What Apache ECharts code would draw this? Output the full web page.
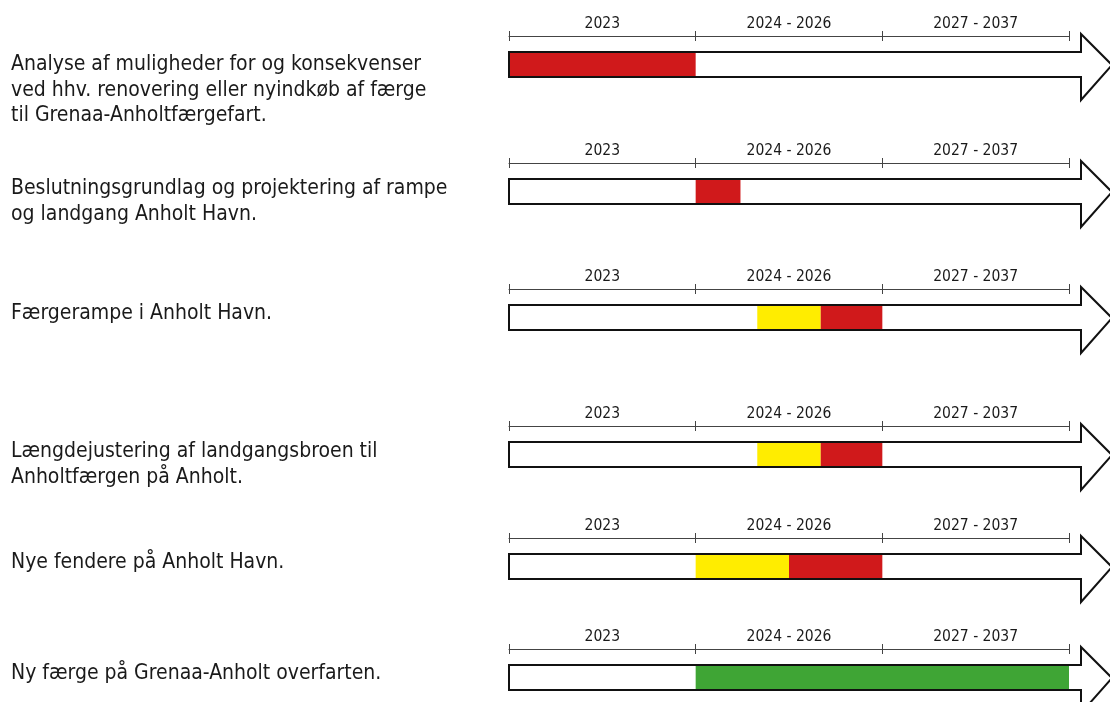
<!DOCTYPE html>
<html>
<head>
<meta charset="utf-8">
<script src="https://cdn.jsdelivr.net/npm/echarts@6/dist/echarts.min.js"></script>
<style>html,body{margin:0;padding:0;background:#fff}#chart{width:1110px;height:702px}</style>
</head>
<body>
<div id="chart"></div>
<script>
var tasks = [
    'Analyse af muligheder for og konsekvenser\nved hhv. renovering eller nyindkøb af færge\ntil Grenaa-Anholtfærgefart.',
    'Beslutningsgrundlag og projektering af rampe\nog landgang Anholt Havn.',
    'Færgerampe i Anholt Havn.',
    'Længdejustering af landgangsbroen til\nAnholtfærgen på Anholt.',
    'Nye fendere på Anholt Havn.',
    'Ny færge på Grenaa-Anholt overfarten.'
];
var periods = ['2023', '2024 - 2026', '2027 - 2037'];

// phases on a period scale: 0-1 = 2023, 1-2 = 2024-2026, 2-3 = 2027-2037
var yellowFrom = [null, null, 1.33, 1.33, 1.0, null];
var yellowTo   = [null, null, 1.67, 1.67, 1.5, null];
var redFrom    = [0, 1.0, 1.67, 1.67, 1.5, null];
var redTo      = [1, 1.24, 2, 2, 2, null];
var greenFrom  = [null, null, null, null, null, 1.0];
var greenTo    = [null, null, null, null, null, 3];

var colors = ['#ffed00', '#d0191b', '#3fa535'];
var rowTop = [36, 163, 289, 426, 538, 649];
var labelPad = [4, 1, 0, 1, 0, 0];
var font = 'DejaVu Sans Condensed';

var myChart = echarts.init(document.getElementById('chart'));

var grids = [], xAxes = [], yAxes = [], series = [];

for (var i = 0; i < tasks.length; i++) {
    grids.push({left: 509, width: 560, top: rowTop[i], height: 24});

    xAxes.push({
        type: 'category', gridIndex: i, position: 'top', data: periods,
        axisLine: {lineStyle: {color: '#444', width: 1}},
        axisTick: {show: true, length: 5, lineStyle: {color: '#444'}},
        axisLabel: {margin: 4, fontSize: 15.5, color: '#1a1a1a', fontFamily: font},
        splitLine: {show: false}
    });
    xAxes.push({
        type: 'category', gridIndex: i, position: 'top', data: periods,
        axisLine: {show: false},
        axisTick: {show: true, inside: true, length: 5, lineStyle: {color: '#444'}},
        axisLabel: {show: false},
        splitLine: {show: false}
    });
    xAxes.push({type: 'value', gridIndex: i, min: 0, max: 3, show: false});

    yAxes.push({
        type: 'category', gridIndex: i, data: [tasks[i]],
        axisLine: {show: false}, axisTick: {show: false},
        axisLabel: {
            align: 'left', verticalAlign: 'top', margin: 498,
            padding: [labelPad[i], 0, 0, 0],
            fontSize: 21, lineHeight: 25.5, color: '#1a1a1a', fontFamily: font
        }
    });

    var segs = [];
    if (yellowFrom[i] != null) segs.push([yellowFrom[i], yellowTo[i], 0]);
    if (redFrom[i] != null) segs.push([redFrom[i], redTo[i], 1]);
    if (greenFrom[i] != null) segs.push([greenFrom[i], greenTo[i], 2]);

    series.push({
        type: 'custom', xAxisIndex: i * 3 + 2, yAxisIndex: i, clip: false, z: 2,
        data: segs,
        renderItem: function (params, api) {
            var cs = params.coordSys;
            var x1 = api.coord([api.value(0), 0])[0];
            var x2 = api.coord([api.value(1), 0])[0];
            return {
                type: 'rect',
                shape: {x: x1, y: cs.y + 16, width: x2 - x1, height: 25},
                style: {fill: colors[api.value(2)]}
            };
        }
    });

    series.push({
        type: 'custom', xAxisIndex: i * 3 + 2, yAxisIndex: i, clip: false, z: 3,
        data: [[0, 3]],
        renderItem: function (params, api) {
            var cs = params.coordSys;
            var x0 = api.coord([api.value(0), 0])[0];
            var xe = api.coord([api.value(1), 0])[0];
            var xs = xe + 12, xt = xe + 43;
            var top = cs.y + 16, bot = cs.y + 41, mid = cs.y + 29;
            return {
                type: 'polygon',
                shape: {points: [[x0, top], [xs, top], [xs, cs.y - 2], [xt, mid], [xs, cs.y + 64], [xs, bot], [x0, bot]]},
                style: {fill: null, stroke: '#111', lineWidth: 2}
            };
        }
    });
}

var option = {
    animation: false,
    backgroundColor: '#fff',
    grid: grids,
    xAxis: xAxes,
    yAxis: yAxes,
    series: series
};

myChart.setOption(option);
</script>
</body>
</html>
